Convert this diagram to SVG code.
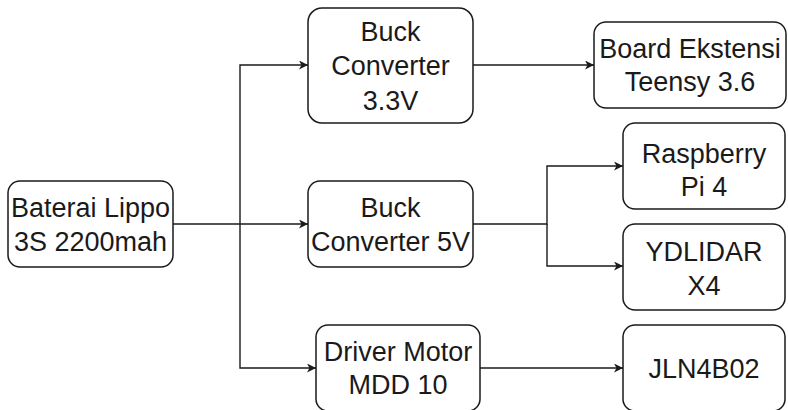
<svg xmlns="http://www.w3.org/2000/svg" width="788" height="410" viewBox="0 0 788 410">
<defs>
<style>
.box{fill:#ffffff;stroke:#1a1a1a;stroke-width:1.5}
.lbl{font-family:"Liberation Sans",Arial,sans-serif;font-size:27px;fill:#1a1a1a;text-anchor:middle}
.ln{fill:none;stroke:#1a1a1a;stroke-width:1.4}
</style>
<marker id="arr" markerUnits="userSpaceOnUse" markerWidth="12" markerHeight="10" refX="9" refY="4.5" orient="auto">
<path d="M0,0 L9,4.5 L0,9 L2.5,4.5 Z" fill="#1a1a1a"/>
</marker>
</defs>
<rect width="788" height="410" fill="#ffffff"/>
<g id="connectors">
<path class="ln" d="M173,224 H308" marker-end="url(#arr)"/>
<path class="ln" d="M240,224 V65 H308" marker-end="url(#arr)"/>
<path class="ln" d="M240,224 V368 H316" marker-end="url(#arr)"/>
<path class="ln" d="M473,65 H594" marker-end="url(#arr)"/>
<path class="ln" d="M473,224 H547 V166 H623" marker-end="url(#arr)"/>
<path class="ln" d="M547,224 V266 H623" marker-end="url(#arr)"/>
<path class="ln" d="M480,368 H623" marker-end="url(#arr)"/>
</g>
<g id="baterai">
<rect class="box" x="8" y="181" width="165" height="86" rx="12"/>
<text class="lbl" x="90.5" y="217">Baterai Lippo</text>
<text class="lbl" x="90.5" y="251">3S 2200mah</text>
</g>
<g id="buck33">
<rect class="box" x="308" y="8" width="165" height="115" rx="14"/>
<text class="lbl" x="390.5" y="41">Buck</text>
<text class="lbl" x="390.5" y="75">Converter</text>
<text class="lbl" x="390.5" y="110">3.3V</text>
</g>
<g id="buck5">
<rect class="box" x="308" y="181" width="165" height="86" rx="12"/>
<text class="lbl" x="390.5" y="217">Buck</text>
<text class="lbl" x="390.5" y="251">Converter 5V</text>
</g>
<g id="driver">
<rect class="box" x="316" y="325" width="164" height="86" rx="12"/>
<text class="lbl" x="398" y="361">Driver Motor</text>
<text class="lbl" x="398" y="394">MDD 10</text>
</g>
<g id="board">
<rect class="box" x="594" y="22" width="192" height="86" rx="12"/>
<text class="lbl" x="690" y="58">Board Ekstensi</text>
<text class="lbl" x="690" y="91">Teensy 3.6</text>
</g>
<g id="raspberry">
<rect class="box" x="623" y="123" width="162" height="86" rx="12"/>
<text class="lbl" x="704" y="163">Raspberry</text>
<text class="lbl" x="704" y="196">Pi 4</text>
</g>
<g id="ydlidar">
<rect class="box" x="623" y="224" width="162" height="86" rx="12"/>
<text class="lbl" x="704" y="261">YDLIDAR</text>
<text class="lbl" x="704" y="295">X4</text>
</g>
<g id="jln">
<rect class="box" x="623" y="325" width="162" height="86" rx="12"/>
<text class="lbl" x="704" y="378">JLN4B02</text>
</g>
</svg>
